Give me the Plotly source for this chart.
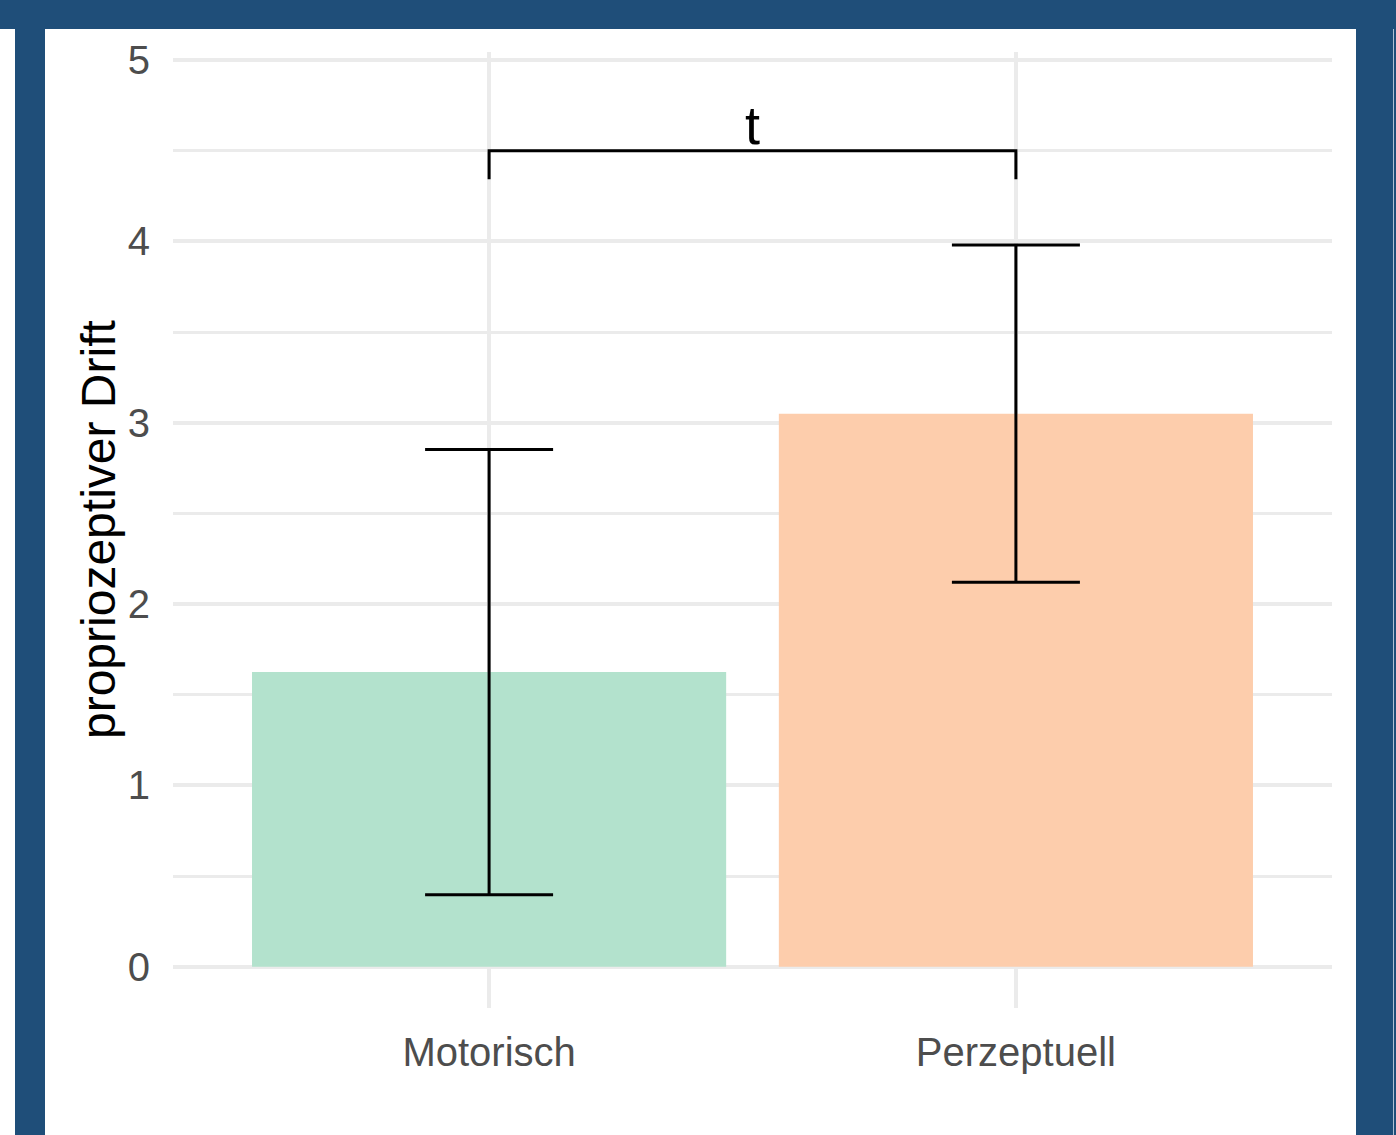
import plotly.graph_objects as go

# ---- data ----
categories = ["Motorisch", "Perzeptuell"]
means = [1.625, 3.05]
errors = [1.228, 0.93]
bar_colors = ["#B3E2CD", "#FDCDAC"]
y_ticks = [0, 1, 2, 3, 4, 5]
bracket_y = 4.5
bracket_tip = 4.343
sig_label = "t"
y_title = "propriozeptiver Drift"

W, H = 1396, 1135
L, R, T, B = 173, 1332, 52, 1008  # plot area in pixels

def px(xp):
    return (xp - L) / (R - L)

def py(yp):
    return (B - yp) / (B - T)

BLUE = "#1F4E79"
FONT = "Liberation Sans, Arial, sans-serif"

fig = go.Figure()
fig.add_trace(go.Bar(
    x=categories, y=means, width=0.9,
    marker=dict(color=bar_colors, line=dict(width=0)),
    error_y=dict(type="data", array=errors, visible=True,
                 color="black", thickness=3, width=64),
    showlegend=False,
))
fig.add_trace(go.Scatter(
    x=[categories[0], categories[0], categories[1], categories[1]],
    y=[bracket_tip, bracket_y, bracket_y, bracket_tip],
    mode="lines", line=dict(color="black", width=3),
    showlegend=False, hoverinfo="skip",
))
fig.add_annotation(
    x=0.5, y=bracket_y, xref="x", yref="y", text=sig_label,
    showarrow=False, yanchor="bottom", yshift=-6,
    font=dict(family=FONT, size=54, color="black"),
)
fig.add_annotation(
    x=px(98), y=0.5, xref="paper", yref="paper", text=y_title,
    showarrow=False, textangle=-90, xanchor="center", yanchor="middle",
    font=dict(family=FONT, size=48, color="black"),
)

shapes = []
def rect(x0, y0, x1, y1, color):
    shapes.append(dict(type="rect", xref="paper", yref="paper",
                       x0=px(x0), x1=px(x1), y0=py(y1), y1=py(y0),
                       fillcolor=color, line=dict(width=0), layer="above"))

rect(0, 0, W, 29, BLUE)
rect(15, 0, 45, H, BLUE)
rect(1356, 0, W, H, BLUE)
rect(1393, 29, 1394, H, "#AFC0D3")

fig.update_layout(
    width=W, height=H,
    margin=dict(l=L, r=W - R, t=T, b=H - B, pad=0),
    paper_bgcolor="white", plot_bgcolor="white",
    shapes=shapes,
    bargap=0.1,
    xaxis=dict(
        type="category", range=[-0.6, 1.6],
        showgrid=True, gridcolor="#EBEBEB", gridwidth=4,
        showline=False, zeroline=False, ticks="",
        tickfont=dict(family=FONT, size=40, color="#4D4D4D"),
        ticklabelstandoff=17,
    ),
    yaxis=dict(
        range=[-0.227, 5.044], tickmode="array", tickvals=y_ticks,
        showgrid=True, gridcolor="#EBEBEB", gridwidth=4,
        minor=dict(tickmode="linear", tick0=0, dtick=0.5, showgrid=True,
                   gridcolor="#EBEBEB", gridwidth=3),
        zeroline=False, showline=False, ticks="",
        tickfont=dict(family=FONT, size=40, color="#4D4D4D"),
        ticklabelstandoff=22,
    ),
)

fig.write_html("out.html", config={"displayModeBar": False},
               post_script="document.body.style.margin='0';document.body.style.overflow='hidden';")
